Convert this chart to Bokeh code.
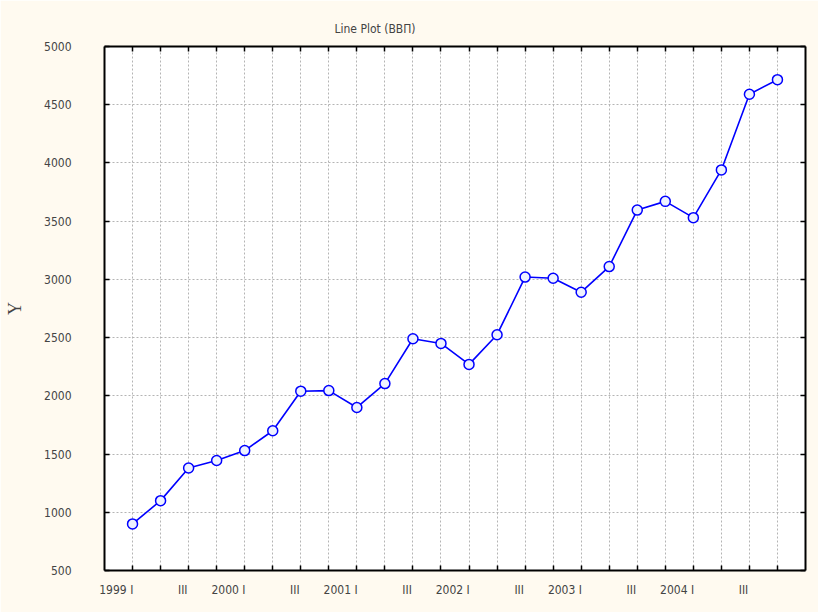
from bokeh.plotting import figure
from bokeh.models import LinearAxis, FixedTicker, Range1d
from bokeh.embed import file_html
from bokeh.resources import INLINE

# ---- data ----
years = [1999, 2000, 2001, 2002, 2003, 2004]
quarter_names = ["I", "II", "III", "IV"]
values = [900, 1100, 1380, 1445, 1530, 1700, 2040, 2045, 1900, 2105, 2490, 2450,
          2270, 2525, 3020, 3010, 2890, 3110, 3595, 3670, 3530, 3940, 4590, 4715]
y_ticks = [500, 1000, 1500, 2000, 2500, 3000, 3500, 4000, 4500, 5000]
period_labels = []
for yr in years:
    for qi, qn in enumerate(quarter_names):
        period_labels.append(f"{yr} {qn}" if qi == 0 else qn)
x = list(range(len(values)))

NARROW = "'DejaVu Sans Condensed', 'Liberation Sans Narrow', 'Liberation Sans'"
BG = "#fffaf0"

p = figure(width=818, height=612, x_range=Range1d(-1, 24), y_range=Range1d(500, 5000),
           output_backend="svg", toolbar_location=None,
           background_fill_color="white", border_fill_color=BG,
           min_border_left=104, min_border_right=13, min_border_top=46, min_border_bottom=42,
           title="Line Plot (ВВП)")
p.outline_line_color = None

p.title.text_font = NARROW
p.title.text_font_size = "12px"
p.title.text_font_style = "normal"
p.title.align = "left"
p.title.offset = 230
p.title.standoff = 21

# grids
p.xgrid.grid_line_color = "#b4b4b4"
p.xgrid.grid_line_dash = "2 2"
p.ygrid.grid_line_color = "#b4b4b4"
p.ygrid.grid_line_dash = "2 2"

def style_axis(ax, labels=True):
    ax.axis_line_color = "black"
    ax.axis_line_width = 2
    ax.major_tick_line_color = "black"
    ax.major_tick_line_width = 1.5
    ax.major_tick_in = 5
    ax.major_tick_out = 0
    ax.minor_tick_line_color = None
    if not labels:
        ax.major_label_text_color = None
        ax.major_label_text_font_size = "1px"
        ax.major_label_standoff = 0

# bottom tick axis
xa = p.xaxis[0]
xa.ticker = FixedTicker(ticks=x)
style_axis(xa, labels=False)

# left axis
ya = p.yaxis[0]
ya.ticker = FixedTicker(ticks=y_ticks)
style_axis(ya)
ya.major_label_text_font = NARROW
ya.major_label_text_font_size = "12px"
ya.major_label_standoff = 33
ya.axis_label = "Y"
ya.axis_label_text_font = "Liberation Serif"
ya.axis_label_text_font_size = "18px"
ya.axis_label_text_font_style = "normal"
ya.axis_label_standoff = 16

# right and top tick axes
ra = LinearAxis(ticker=FixedTicker(ticks=y_ticks))
style_axis(ra, labels=False)
p.add_layout(ra, "right")
ta = LinearAxis(ticker=FixedTicker(ticks=x))
style_axis(ta, labels=False)
p.add_layout(ta, "above")

# bottom label axis: labels right-aligned at their tick (shifted by half width)
def est_width(s, size=12):
    w = 0.0
    for ch in s:
        w += 0.5 if ch.isdigit() else 0.27
    return w * size

px_per_unit = 28.0
p.extra_x_ranges = {"lab": Range1d(-100, 2400)}
lab_ticks = []
overrides = {}
for i, lab in enumerate(period_labels):
    if i % 2 == 0:
        pos = int(round(i * 100 - (est_width(lab) / 2 + 1) / px_per_unit * 100))
        lab_ticks.append(pos)
        overrides[pos] = lab
la = LinearAxis(x_range_name="lab", ticker=FixedTicker(ticks=lab_ticks),
                major_label_overrides=overrides)
la.axis_line_color = None
la.major_tick_line_color = None
la.minor_tick_line_color = None
la.major_tick_in = 0
la.major_tick_out = 0
la.major_label_text_font = NARROW
la.major_label_text_font_size = "12px"
la.major_label_standoff = 12
p.add_layout(la, "below")

# series
p.line(x, values, line_color="#0000ff", line_width=1.6)
p.scatter(x, values, marker="circle", size=10, line_color="#0000ff", line_width=1.5,
          fill_color="#eef2ff")

open("out.html", "w").write(file_html(p, INLINE))
